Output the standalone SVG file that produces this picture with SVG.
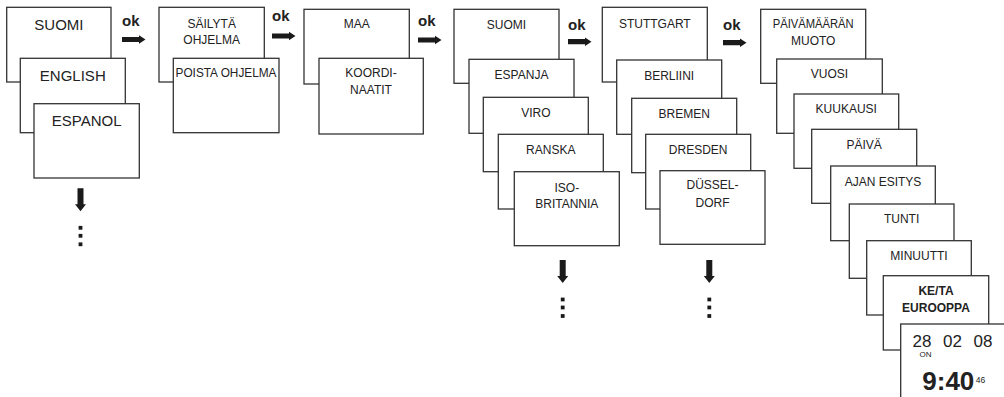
<svg xmlns="http://www.w3.org/2000/svg" width="1004" height="397" viewBox="0 0 1004 397">
<style>
.b{fill:#fff;stroke:#333;stroke-width:1.3}
.t{font-family:"Liberation Sans",Arial,sans-serif;font-size:12px;fill:#222;text-anchor:middle}
.L{font-size:15px}
.bd{font-weight:bold}
.ok{font-family:"Liberation Sans",Arial,sans-serif;font-size:15px;font-weight:bold;fill:#222}
.ar{fill:#1a1a1a}
</style>
<defs>
<path id="ra" d="M0,-2.6 H17 V-4.3 L23.5,0 L17,4.3 V2.6 H0 Z"/>
<g id="da">
<path d="M-3,0 H3 V16 H5.5 L0,23 L-5.5,16 H-3 Z"/>
<rect x="-1.9" y="37.6" width="3.8" height="3.8"/>
<rect x="-1.9" y="45.6" width="3.8" height="3.8"/>
<rect x="-1.9" y="54.1" width="3.8" height="3.8"/>
</g>
</defs>

<g id="connectors" class="ar">
<text class="ok" x="122" y="26">ok</text>
<use href="#ra" x="122" y="39.5"/>
<text class="ok" x="272" y="21">ok</text>
<use href="#ra" x="272" y="36"/>
<text class="ok" x="418" y="25.5">ok</text>
<use href="#ra" x="418" y="40"/>
<text class="ok" x="568" y="29.5">ok</text>
<use href="#ra" x="568" y="41.7"/>
<text class="ok" x="723" y="29.5">ok</text>
<use href="#ra" x="723" y="42.7"/>
<use href="#da" x="80.5" y="188.3"/>
<use href="#da" x="562.7" y="260"/>
<use href="#da" x="709.3" y="260"/>
</g>

<g id="n-suomi1"><rect class="b" x="6.7" y="7.3" width="104.3" height="74.7"/><text class="t L" x="58.9" y="30">SUOMI</text></g>
<g id="n-english"><rect class="b" x="20.3" y="58.3" width="105" height="74.4"/><text class="t L" x="72.8" y="81">ENGLISH</text></g>
<g id="n-espanol"><rect class="b" x="34" y="103.7" width="105.3" height="74.3"/><text class="t L" x="86.7" y="126">ESPANOL</text></g>

<g id="n-sailyta"><rect class="b" x="159" y="7.3" width="105.3" height="74.7"/><text class="t" x="211.7" y="28.3">SÄILYTÄ</text><text class="t" x="211.7" y="43.5">OHJELMA</text></g>
<g id="n-poista"><rect class="b" x="173.3" y="58.3" width="105.7" height="74.4"/><text class="t" x="226" y="76.7" textLength="101" lengthAdjust="spacingAndGlyphs">POISTA OHJELMA</text></g>

<g id="n-maa"><rect class="b" x="304" y="9.3" width="105.3" height="74.7"/><text class="t" x="356.7" y="28.3">MAA</text></g>
<g id="n-koordi"><rect class="b" x="319" y="58.3" width="104.3" height="75.7"/><text class="t" x="371" y="77.3">KOORDI-</text><text class="t" x="371" y="93.5">NAATIT</text></g>

<g id="n-suomi2"><rect class="b" x="454" y="9.3" width="105" height="74"/><text class="t" x="506.5" y="28.5">SUOMI</text></g>
<g id="n-espanja"><rect class="b" x="469" y="59.3" width="105" height="74"/><text class="t" x="521.5" y="79">ESPANJA</text></g>
<g id="n-viro"><rect class="b" x="483.3" y="97.3" width="105" height="74.4"/><text class="t" x="535.8" y="116.7">VIRO</text></g>
<g id="n-ranska"><rect class="b" x="498.3" y="134.3" width="105" height="74.7"/><text class="t" x="550.8" y="154">RANSKA</text></g>
<g id="n-iso"><rect class="b" x="514.3" y="171.7" width="105" height="74"/><text class="t" x="566.8" y="191.7">ISO-</text><text class="t" x="566.8" y="208.3">BRITANNIA</text></g>

<g id="n-stuttgart"><rect class="b" x="602.3" y="7.3" width="105" height="74.7"/><text class="t" x="654.8" y="28.3">STUTTGART</text></g>
<g id="n-berliini"><rect class="b" x="616.7" y="60" width="105" height="74.3"/><text class="t" x="669.2" y="80">BERLIINI</text></g>
<g id="n-bremen"><rect class="b" x="631.7" y="98.3" width="105" height="74.4"/><text class="t" x="684.2" y="118.3">BREMEN</text></g>
<g id="n-dresden"><rect class="b" x="645.7" y="134.3" width="105" height="74.7"/><text class="t" x="698.2" y="154">DRESDEN</text></g>
<g id="n-dussel"><rect class="b" x="660" y="170.7" width="105" height="73.6"/><text class="t" x="712.5" y="189.3">DÜSSEL-</text><text class="t" x="712.5" y="207.3">DORF</text></g>

<g id="n-paivamaaran"><rect class="b" x="760.7" y="9.3" width="105" height="74"/><text class="t" x="813.2" y="28.3" textLength="81" lengthAdjust="spacingAndGlyphs">PÄIVÄMÄÄRÄN</text><text class="t" x="813.2" y="45">MUOTO</text></g>
<g id="n-vuosi"><rect class="b" x="776.7" y="59" width="105.6" height="74.3"/><text class="t" x="829.5" y="78.3">VUOSI</text></g>
<g id="n-kuukausi"><rect class="b" x="794" y="94" width="104.7" height="74.3"/><text class="t" x="846.3" y="113.3">KUUKAUSI</text></g>
<g id="n-paiva"><rect class="b" x="811.7" y="129.3" width="105" height="74"/><text class="t" x="864.2" y="149">PÄIVÄ</text></g>
<g id="n-ajan"><rect class="b" x="830.7" y="166" width="104.6" height="74.7"/><text class="t" x="883" y="185.7">AJAN ESITYS</text></g>
<g id="n-tunti"><rect class="b" x="849.3" y="204" width="104.7" height="74.3"/><text class="t" x="901.6" y="223.3">TUNTI</text></g>
<g id="n-minuutti"><rect class="b" x="866.7" y="240.7" width="104.6" height="74.3"/><text class="t" x="919" y="260">MINUUTTI</text></g>
<g id="n-keta"><rect class="b" x="883.3" y="275.7" width="105.4" height="74.3"/><text class="t bd" x="936" y="295">KE/TA</text><text class="t bd" x="936" y="311.7">EUROOPPA</text></g>
<g id="n-display"><rect class="b" x="900.7" y="324" width="110" height="80"/>
<text class="t" x="922" y="346.7" style="font-size:17px">28</text>
<text class="t" x="952.5" y="346.7" style="font-size:17px">02</text>
<text class="t" x="983" y="346.7" style="font-size:17px">08</text>
<text class="t" x="925.5" y="356.7" style="font-size:8px">ON</text>
<text class="t bd" x="948.3" y="390" style="font-size:26px">9:40</text>
<text class="t" x="980.5" y="382.7" style="font-size:8.5px">46</text>
</g>
</svg>
